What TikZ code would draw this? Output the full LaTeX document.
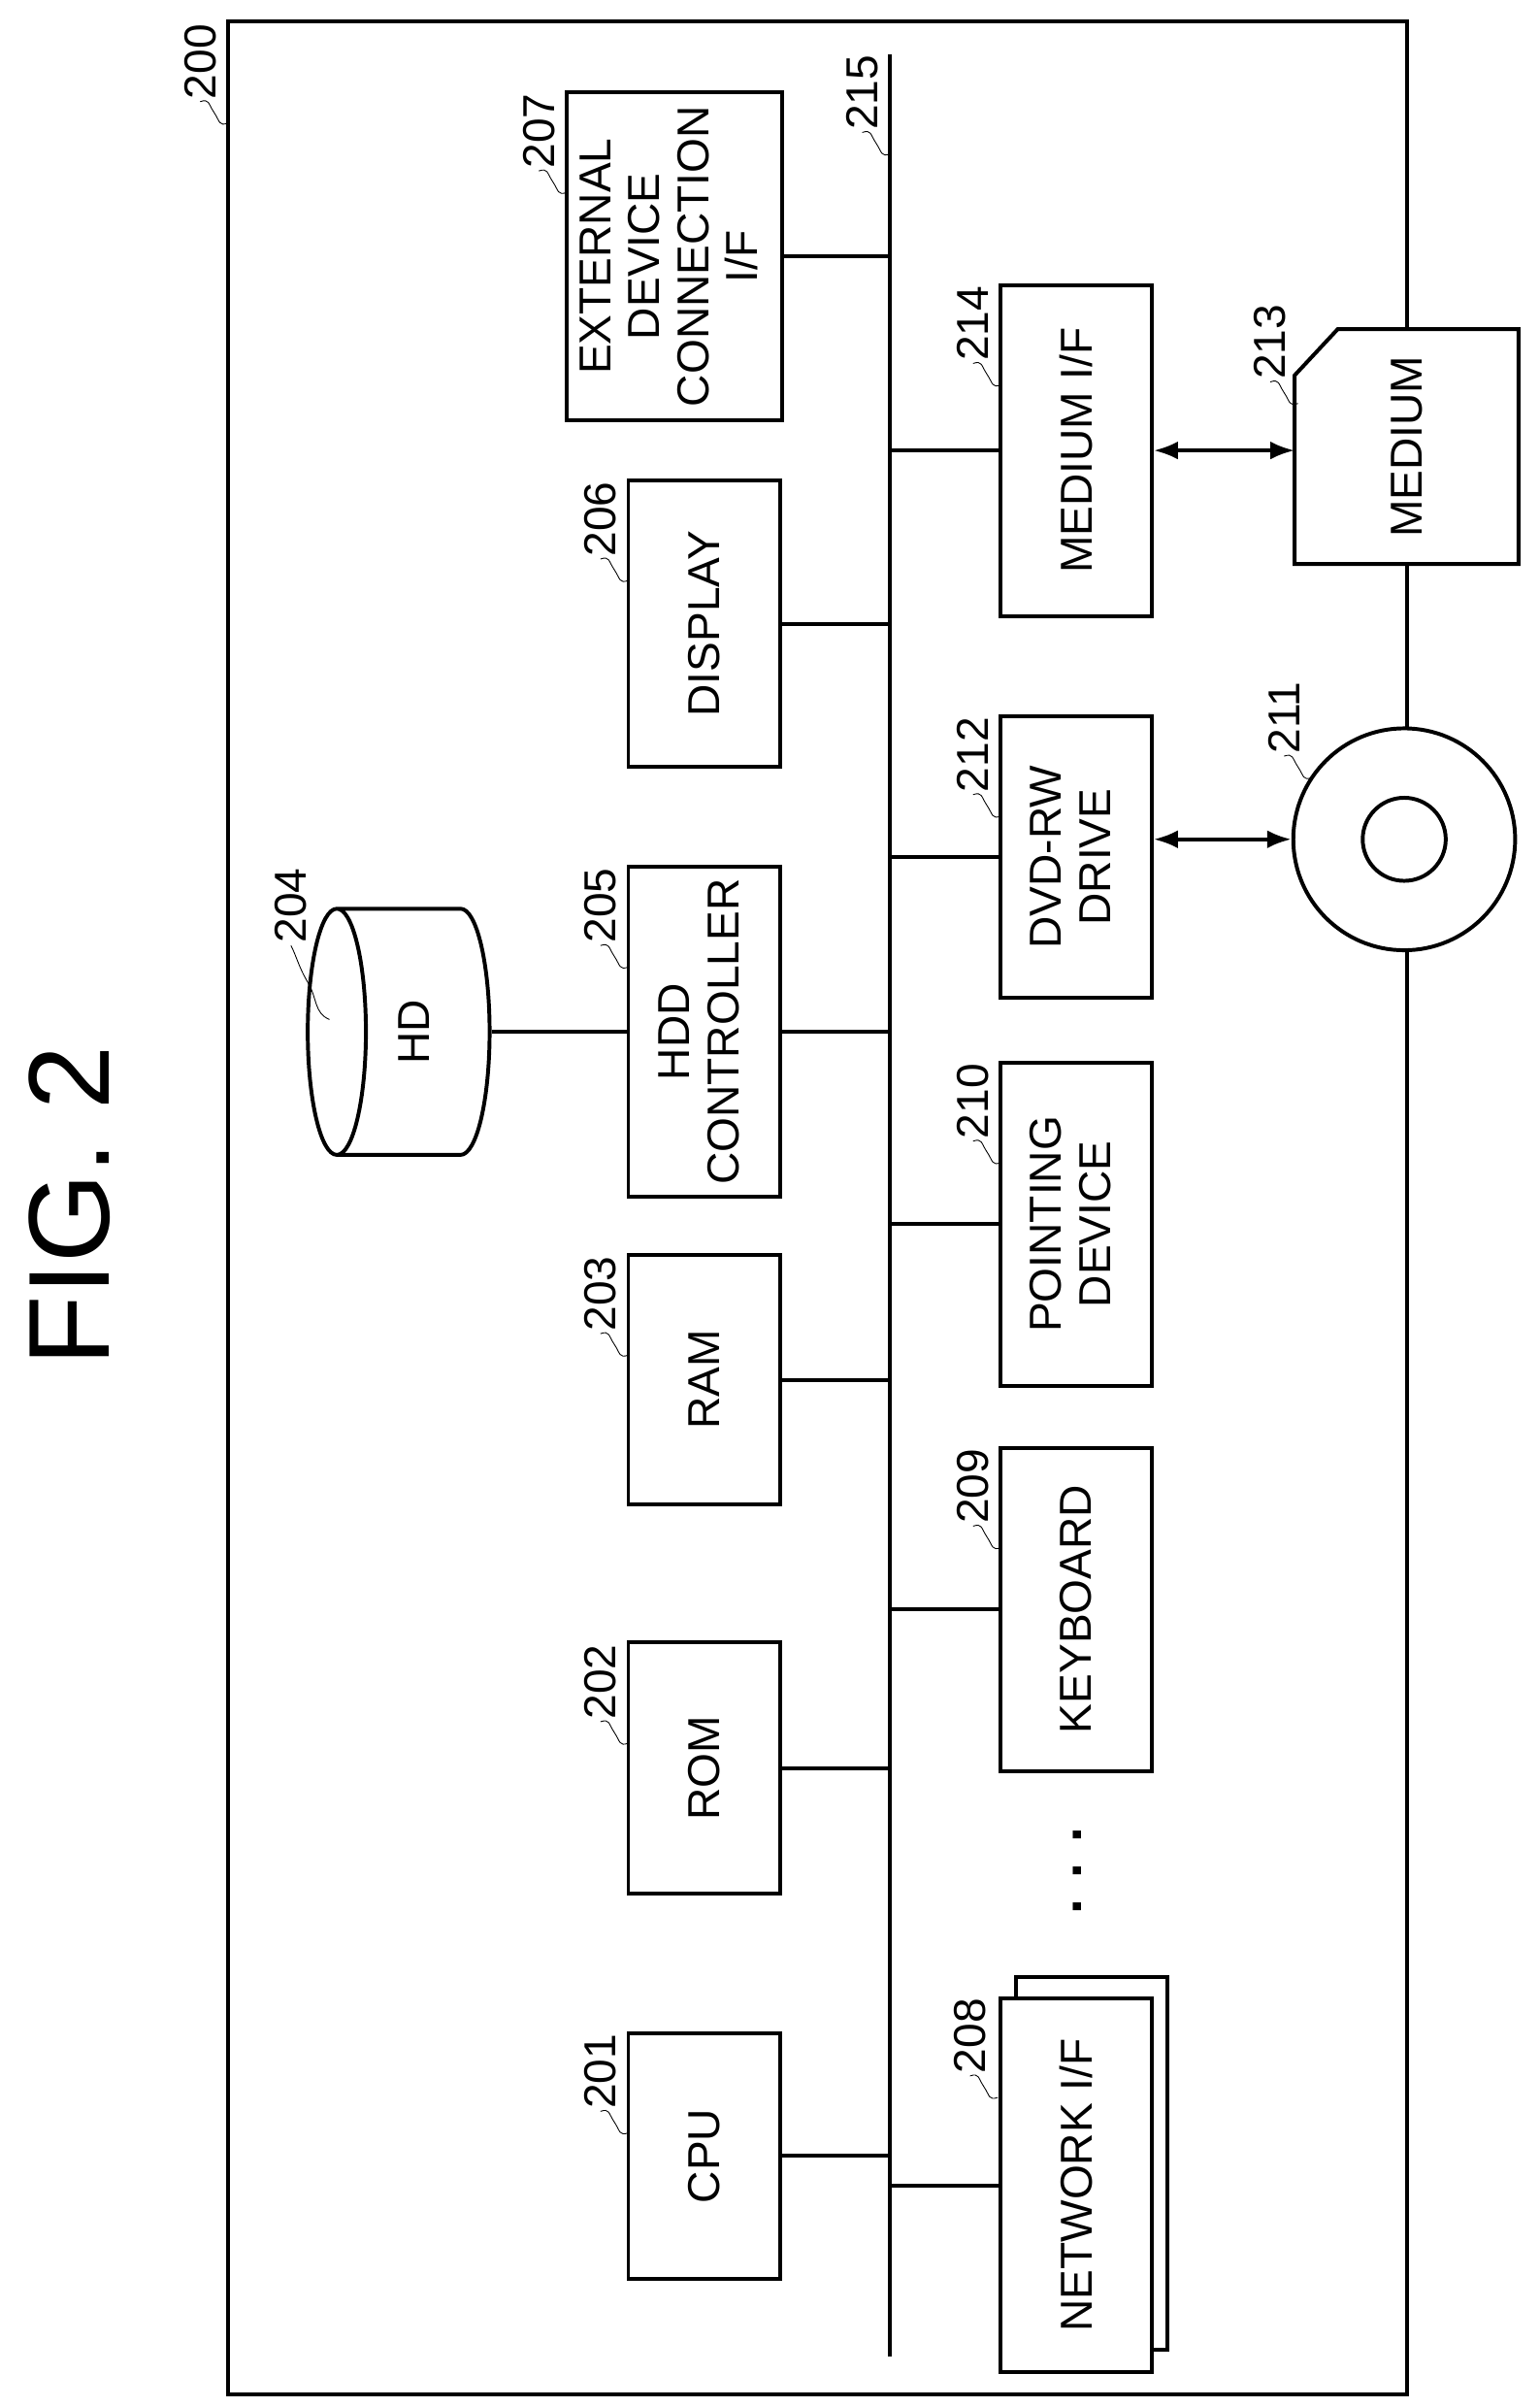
\documentclass[tikz,border=0pt]{standalone}
\usepackage{fontspec}
\setmainfont{Liberation Sans}
\usetikzlibrary{arrows.meta,shapes.geometric}
\newcommand{\partlbl}[2]{%
  \draw[thin] #1 .. controls +(-6,2) and +(4,6) .. ++(-9,-7)
    .. controls +(-4,-6) and +(6,-2) .. ++(-9,-7)
    node[rotate=90,anchor=west,inner sep=1pt] {#2};}
\begin{document}
\begin{tikzpicture}[x=0.254mm,y=-0.254mm,line width=1.8pt,
  font=\fontsize{21}{23}\selectfont,
  box/.style={draw,rectangle,inner sep=0pt,fill=white},
  lbox/.style={box,minimum width=25.1mm},
  rbox/.style={box,minimum width=24.9mm},
  dbl/.style={{Latex[length=4mm,width=3mm]}-{Latex[length=4mm,width=3mm]}}]
\useasboundingbox (0,0) rectangle (1000,1563);

\node[rotate=90,font=\fontsize{54}{60}\selectfont] (fig) at (45,783) {FIG. 2};
\draw (148,14) rectangle (914,1555);
\coordinate (bustop) at (578,35);
\coordinate (busbot) at (578,1530);
\draw (bustop) -- (busbot);

% left column
\node[lbox,minimum height=40.6mm] (cpu) at (457.5,1400) {\rotatebox{90}{CPU}};
\node[lbox,minimum height=41.4mm] (rom) at (457.5,1148) {\rotatebox{90}{ROM}};
\node[lbox,minimum height=41.1mm] (ram) at (457.5,896) {\rotatebox{90}{RAM}};
\node[lbox,minimum height=54.4mm] (hddc) at (457.5,670) {\rotatebox{90}{\begin{tabular}{@{}c@{}}HDD\\CONTROLLER\end{tabular}}};
\node[lbox,minimum height=47.2mm] (disp) at (457.5,405) {\rotatebox{90}{DISPLAY}};
\node[box,minimum width=35.6mm,minimum height=54.1mm] (extif) at (438,166.5) {\rotatebox{90}{\begin{tabular}{@{}c@{}}EXTERNAL\\DEVICE\\CONNECTION\\I/F\end{tabular}}};
\node[draw,cylinder,shape border rotate=180,aspect=0.9,minimum width=40.6mm,minimum height=30mm,inner sep=0pt] (hd) at (269,670) {\rotatebox{90}{HD}};

% right column
\node[rbox,minimum height=61.5mm] (netb) at (709,1405) {};
\node[rbox,minimum height=61.5mm] (net) at (699,1419) {\rotatebox{90}{NETWORK I/F}};
\node[rbox,minimum height=53.3mm] (kbd) at (699,1045) {\rotatebox{90}{KEYBOARD}};
\node[rbox,minimum height=53.3mm] (pdev) at (699,795) {\rotatebox{90}{\begin{tabular}{@{}c@{}}POINTING\\DEVICE\end{tabular}}};
\node[rbox,minimum height=46.5mm] (dvd) at (699,556.5) {\rotatebox{90}{\begin{tabular}{@{}c@{}}DVD-RW\\DRIVE\end{tabular}}};
\node[rbox,minimum height=54.6mm] (mif) at (699,292.5) {\rotatebox{90}{MEDIUM I/F}};
\node[rotate=90,font=\fontsize{26}{28}\selectfont] (dots) at (700,1215) {\textbf{. . .}};

% medium and disc
\node[minimum width=36.3mm,minimum height=38.1mm,inner sep=0pt] (med) at (913.5,290) {};
\draw[fill=white] (med.north west) ++(0,30) -- ++(28,-30) -- (med.north east)
  -- (med.south east) -- (med.south west) -- cycle;
\node at (med) {\rotatebox{90}{MEDIUM}};
\node[draw,circle,fill=white,minimum size=36.6mm,inner sep=0pt] (disc) at (912,545) {};
\node[draw,circle,minimum size=13.7mm,inner sep=0pt] (hole) at (disc) {};

% connectors
\foreach \n in {cpu,rom,ram,hddc,disp,extif}
  \draw (\n.east) -- (\n.east -| bustop);
\foreach \n in {net,kbd,pdev,dvd,mif}
  \draw (\n.west) -- (\n.west -| bustop);
\draw (hd.east) -- (hddc.west);
\draw[dbl] (mif.east) -- (mif.east -| med.west);
\draw[dbl] (dvd.east |- disc.west) -- (disc.west);

% reference numerals
\partlbl{(148,80)}{200}
\partlbl{(578,100)}{215}
\partlbl{(368,125)}{207}
\partlbl{(408,377)}{206}
\partlbl{(408,628)}{205}
\partlbl{(408,880)}{203}
\partlbl{(408,1132)}{202}
\partlbl{(408,1385)}{201}
\draw[thin] (214,662) .. controls +(-10,-4) and +(6,10) .. (200,638)
  .. controls +(-6,-10) and +(4,8) .. (189,614)
  node[rotate=90,anchor=west,inner sep=1pt] {204};
\partlbl{(650,250)}{214}
\partlbl{(650,530)}{212}
\partlbl{(650,755)}{210}
\partlbl{(650,1005)}{209}
\partlbl{(648,1362)}{208}
\partlbl{(843,262)}{213}
\partlbl{(852,505)}{211}
\end{tikzpicture}
\end{document}
